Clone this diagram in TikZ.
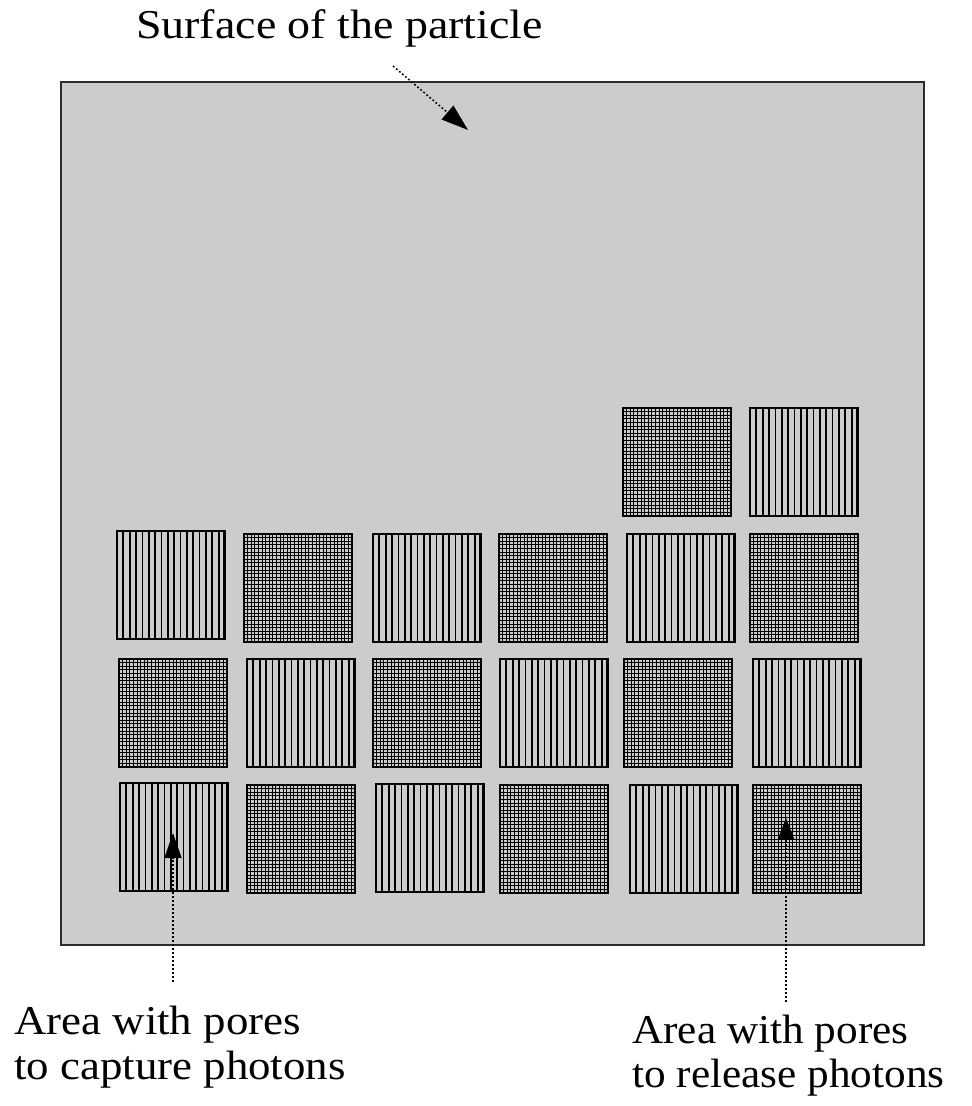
\documentclass[tikz,border=0pt]{standalone}
\usepackage{fontspec}
\setmainfont{Liberation Serif}
\newfontfamily\lblfont[FakeStretch=1.12]{Liberation Serif}
\newfontfamily\lblfontb[FakeStretch=1.095]{Liberation Serif}
\newfontfamily\lblfontc[FakeStretch=1.055]{Liberation Serif}
\usetikzlibrary{arrows.meta}
\definecolor{surf}{RGB}{204,204,204}
\definecolor{edgec}{RGB}{45,45,45}
\tikzset{
 sqbase/.style={draw=black, line width=1.3pt, minimum size=108pt, inner sep=0pt, outer sep=0pt, anchor=north west},
 vsq/.style={sqbase, path picture={
   \foreach \i in {1,...,16}{
     \draw[line width=1.8pt] ([xshift=\i*6.35pt]path picture bounding box.south west) -- ([xshift=\i*6.35pt]path picture bounding box.north west);}
   \draw[line width=3.2pt] (path picture bounding box.south east) -- (path picture bounding box.north east);
 }},
 gsq/.style={sqbase, path picture={
   \foreach \i in {1,...,29}{
     \draw[line width=1pt] ([xshift=\i*3.6pt]path picture bounding box.south west) -- ([xshift=\i*3.6pt]path picture bounding box.north west);
     \draw[line width=1pt] ([yshift=\i*3.6pt]path picture bounding box.south west) -- ([yshift=\i*3.6pt]path picture bounding box.south east);}
 }},
 pointer/.style={line width=1.5pt, dash pattern=on 1.8pt off 2.2pt},
 lbl/.style={font=\lblfont\fontsize{41}{45}\selectfont, anchor=base west, inner sep=0pt, align=left},
}
\begin{document}
\begin{tikzpicture}[x=1pt,y=-1pt]
\useasboundingbox (0,0) rectangle (972,1106);
% particle surface
\node[draw=edgec, fill=surf, line width=2pt, anchor=north west, minimum width=863pt, minimum height=863pt, inner sep=0pt, outer sep=0pt] (surface) at (61,82) {};
% row 0
\node[gsq] (r0c5) at (623,408) {};
\node[vsq] (r0c6) at (750,408) {};
% row 1
\node[vsq] (r1c1) at (117,531) {};
\node[gsq] (r1c2) at (244,534) {};
\node[vsq] (r1c3) at (373,534) {};
\node[gsq] (r1c4) at (499,534) {};
\node[vsq] (r1c5) at (627,534) {};
\node[gsq] (r1c6) at (750,534) {};
% row 2
\node[gsq] (r2c1) at (119,659) {};
\node[vsq] (r2c2) at (247,659) {};
\node[gsq] (r2c3) at (373,659) {};
\node[vsq] (r2c4) at (500,659) {};
\node[gsq] (r2c5) at (624,659) {};
\node[vsq] (r2c6) at (753,659) {};
% row 3
\node[vsq] (r3c1) at (120,783) {};
\node[gsq] (r3c2) at (247,785) {};
\node[vsq] (r3c3) at (376,784) {};
\node[gsq] (r3c4) at (500,785) {};
\node[vsq] (r3c5) at (630,785) {};
\node[gsq] (r3c6) at (753,785) {};
% labels
\node[lbl] (toplbl) at (136,38) {Surface of the particle};
\node[lbl, font=\lblfontb\fontsize{41}{45}\selectfont] (caplbl) at (14,1079) {Area with pores\\to capture photons};
\node[lbl, font=\lblfontc\fontsize{41}{44}\selectfont] (rellbl) at (632,1087) {Area with pores\\to release photons};
% pointers
\coordinate (topstart) at (393,66);
\coordinate (toptip) at (468,130);
\coordinate (capstart) at (173,982);
\coordinate (captip) at (173,833);
\coordinate (relstart) at (786,1002);
\coordinate (reltip) at (786,818);
\draw[pointer, -{Triangle[length=27pt,width=18pt]}] (topstart) -- (toptip);
\draw[pointer, -{Triangle[length=25pt,width=17pt]}] (capstart) -- (captip);
\draw[pointer, -{Triangle[length=21pt,width=16pt]}] (relstart) -- (reltip);
\end{tikzpicture}
\end{document}
